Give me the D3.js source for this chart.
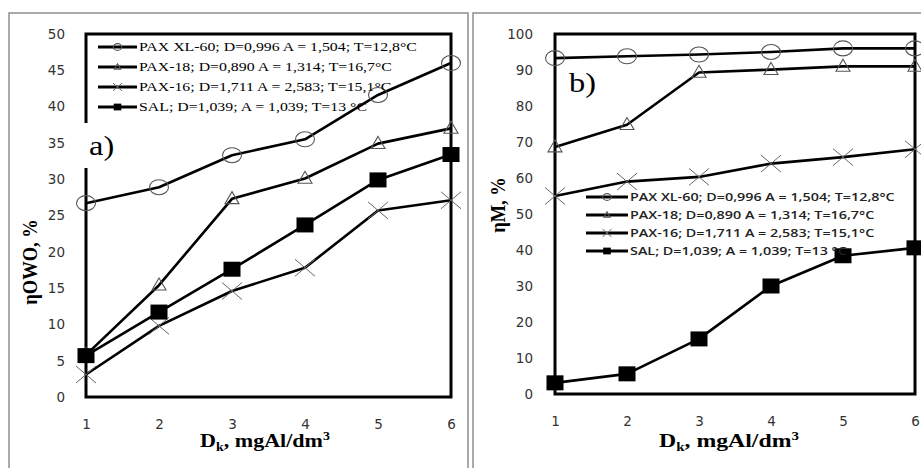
<!DOCTYPE html>
<html>
<head>
<meta charset="utf-8">
<script src="https://cdn.jsdelivr.net/npm/d3@7"></script>
<style>
  body { margin: 0; background: #fff; }
  svg { display: block; }
</style>
</head>
<body>
<svg id="chart" width="921" height="468"></svg>
<script>
// doses of coagulant, mgAl/dm3
const doses = [1, 2, 3, 4, 5, 6]

const seriesLabels = [
  'PAX XL-60; D=0,996 A = 1,504; T=12,8°C',
  'PAX-18; D=0,890 A = 1,314; T=16,7°C',
  'PAX-16; D=1,711 A = 2,583; T=15,1°C',
  'SAL; D=1,039; A = 1,039; T=13 °C'
]
const seriesMarkers = ['circle', 'triangle', 'cross', 'square']

// a) eta OWO, %
const owoXL60 = [26.7, 28.9, 33.3, 35.5, 41.6, 46.0]
const owoPax18 = [5.8, 15.4, 27.3, 30.1, 34.9, 37.0]
const owoPax16 = [3.1, 9.8, 14.6, 17.8, 25.7, 27.1]
const owoSal = [5.7, 11.7, 17.6, 23.7, 29.9, 33.4]
const owoTicks = [0, 5, 10, 15, 20, 25, 30, 35, 40, 45, 50]

// b) eta M, %
const mXL60 = [93.3, 93.8, 94.3, 95.0, 96.0, 96.0]
const mPax18 = [68.6, 74.8, 89.3, 90.1, 91.0, 91.0]
const mPax16 = [55.0, 59.0, 60.3, 64.0, 65.8, 68.0]
const mSal = [3.1, 5.6, 15.3, 30.0, 38.4, 40.6]
const mTicks = [0, 10, 20, 30, 40, 50, 60, 70, 80, 90, 100]

let svg = d3.select('#chart')

// marker shapes, s = scale (legend uses small ones)
function marker (g, type, cx, cy, s) {
  if (type === 'circle') {
    g.append('ellipse').attr('cx', cx).attr('cy', cy)
      .attr('rx', 9.5 * s).attr('ry', 7.5 * s)
      .attr('fill', 'none').attr('stroke', '#555').attr('stroke-width', 1.1)
  } else if (type === 'triangle') {
    let w = 14 * s, h = 12 * s
    g.append('path')
      .attr('d', `M${cx},${cy - h * 0.6}L${cx + w / 2},${cy + h * 0.4}L${cx - w / 2},${cy + h * 0.4}Z`)
      .attr('fill', 'none').attr('stroke', '#555').attr('stroke-width', 1.1)
  } else if (type === 'cross') {
    let w = 20 * s, h = 17 * s
    g.append('path')
      .attr('d', `M${cx - w / 2},${cy - h / 2}L${cx + w / 2},${cy + h / 2}M${cx - w / 2},${cy + h / 2}L${cx + w / 2},${cy - h / 2}`)
      .attr('fill', 'none').attr('stroke', '#666').attr('stroke-width', 1)
  } else {
    let w = 17 * s, h = 15 * s
    g.append('rect').attr('x', cx - w / 2).attr('y', cy - h / 2)
      .attr('width', w).attr('height', h).attr('fill', '#000')
  }
}

function drawPanel (p) {
  let x = d3.scaleLinear().domain([1, 6]).range([p.left, p.right])
  let y = d3.scaleLinear().domain([0, p.yMax]).range([p.bottom, p.top])
  let g = svg.append('g')

  // gray outer border of the panel
  g.append('rect')
    .attr('x', p.border[0]).attr('y', p.border[1])
    .attr('width', p.border[2]).attr('height', p.border[3])
    .attr('fill', 'none').attr('stroke', '#8f8f8f').attr('stroke-width', 1.5)

  // axes (labels only, frame is drawn as a rect)
  let yAxis = d3.axisLeft(y).tickValues(p.yTicks).tickFormat(d3.format('d')).tickSize(0).tickPadding(p.yPad)
  let xAxis = d3.axisBottom(x).tickValues(doses).tickFormat(d3.format('d')).tickSize(0).tickPadding(p.xPad)
  let ya = g.append('g').attr('transform', 'translate(' + p.left + ',0)').call(yAxis)
  let xa = g.append('g').attr('transform', 'translate(0,' + p.bottom + ')').call(xAxis)
  ya.select('.domain').remove()
  xa.select('.domain').remove()
  g.selectAll('.tick text')
    .attr('font-family', 'DejaVu Sans').attr('font-size', 13.5).attr('fill', '#333')

  // plot frame
  g.append('rect')
    .attr('x', p.left).attr('y', p.top)
    .attr('width', p.right - p.left).attr('height', p.bottom - p.top)
    .attr('fill', 'none').attr('stroke', '#000').attr('stroke-width', 3)

  // series
  let line = d3.line().x((d, i) => x(doses[i])).y((d) => y(d))
  p.series.forEach((vals, k) => {
    g.append('path').datum(vals)
      .attr('d', line)
      .attr('fill', 'none').attr('stroke', '#000').attr('stroke-width', 2.6)
      .attr('stroke-linejoin', 'round')
    vals.forEach((v, i) => marker(g, seriesMarkers[k], x(doses[i]), y(v), 1))
  })

  // panel tag a) / b)
  if (p.tagBox) {
    g.append('rect').attr('x', p.tagBox[0]).attr('y', p.tagBox[1])
      .attr('width', p.tagBox[2]).attr('height', p.tagBox[3]).attr('fill', '#fff')
  }
  g.append('text').text(p.tag)
    .attr('font-family', 'Liberation Serif').attr('font-size', 27)
    .attr('transform', 'translate(' + p.tagPos[0] + ',' + p.tagPos[1] + ') scale(1.2,1)')

  // legend
  let lg = p.legend
  let texts = []
  seriesLabels.forEach((lab, k) => {
    let ly = lg.y + k * lg.step
    g.append('line').attr('x1', lg.x0).attr('x2', lg.x1).attr('y1', ly).attr('y2', ly)
      .attr('stroke', '#000').attr('stroke-width', 2.8)
    marker(g, seriesMarkers[k], (lg.x0 + lg.x1) / 2, ly, 0.45)
    let t = g.append('text').text(lab)
      .attr('font-family', lg.family).attr('font-size', lg.size)
      .attr('font-weight', lg.weight).attr('fill', lg.color)
      .attr('dy', '0.35em')
    texts.push([t, ly])
  })
  let sx = lg.width / texts[0][0].node().getComputedTextLength()
  texts.forEach(([t, ly]) => {
    t.attr('transform', 'translate(' + (lg.x1 + 2) + ',' + ly + ') scale(' + sx + ',1)')
  })

  // x axis title: D_k, mgAl/dm^3
  let xt = g.append('text')
    .attr('font-family', 'Liberation Serif').attr('font-weight', 'bold')
    .attr('font-size', 19).attr('text-anchor', 'middle')
  xt.append('tspan').text('D')
  xt.append('tspan').text('k').attr('font-size', 12).attr('dy', 4)
  xt.append('tspan').text(', mgAl/dm').attr('dy', -4)
  xt.append('tspan').text('3').attr('font-size', 12).attr('dy', -7)
  let xsx = p.xTitleWidth / xt.node().getComputedTextLength()
  xt.attr('transform', 'translate(' + p.xTitlePos[0] + ',' + p.xTitlePos[1] + ') scale(' + xsx + ',1)')

  // y axis title
  g.append('text').text(p.yTitle)
    .attr('font-family', 'Liberation Serif').attr('font-weight', 'bold')
    .attr('font-size', 18.5).attr('text-anchor', 'middle').attr('dy', '0.35em')
    .attr('transform', 'translate(' + p.yTitlePos[0] + ',' + p.yTitlePos[1] + ') rotate(-90) scale(1,1.1)')
}

drawPanel({
  left: 86, right: 451, top: 34, bottom: 397,
  yMax: 50, yTicks: owoTicks, yPad: 21, xPad: 22,
  border: [9, 13, 459, 480],
  series: [owoXL60, owoPax18, owoPax16, owoSal],
  tag: 'a)', tagPos: [89, 155], tagBox: [78, 123, 40, 45],
  legend: { x0: 98, x1: 137, y: 47, step: 20, family: 'Liberation Serif', size: 11.5, weight: 'normal', color: '#000', width: 278 },
  xTitlePos: [265, 447], xTitleWidth: 130,
  yTitle: 'ηOWO, %', yTitlePos: [30, 262]
})

drawPanel({
  left: 555, right: 915, top: 34, bottom: 394,
  yMax: 100, yTicks: mTicks, yPad: 22, xPad: 22,
  border: [473, 13, 480, 480],
  series: [mXL60, mPax18, mPax16, mSal],
  tag: 'b)', tagPos: [569, 92], tagBox: null,
  legend: { x0: 586, x1: 628, y: 197, step: 18, family: 'Open Sans', size: 11, weight: 600, color: '#222', width: 265 },
  xTitlePos: [729, 447], xTitleWidth: 140,
  yTitle: 'ηM, %', yTitlePos: [498, 205]
})
</script>
</body>
</html>
